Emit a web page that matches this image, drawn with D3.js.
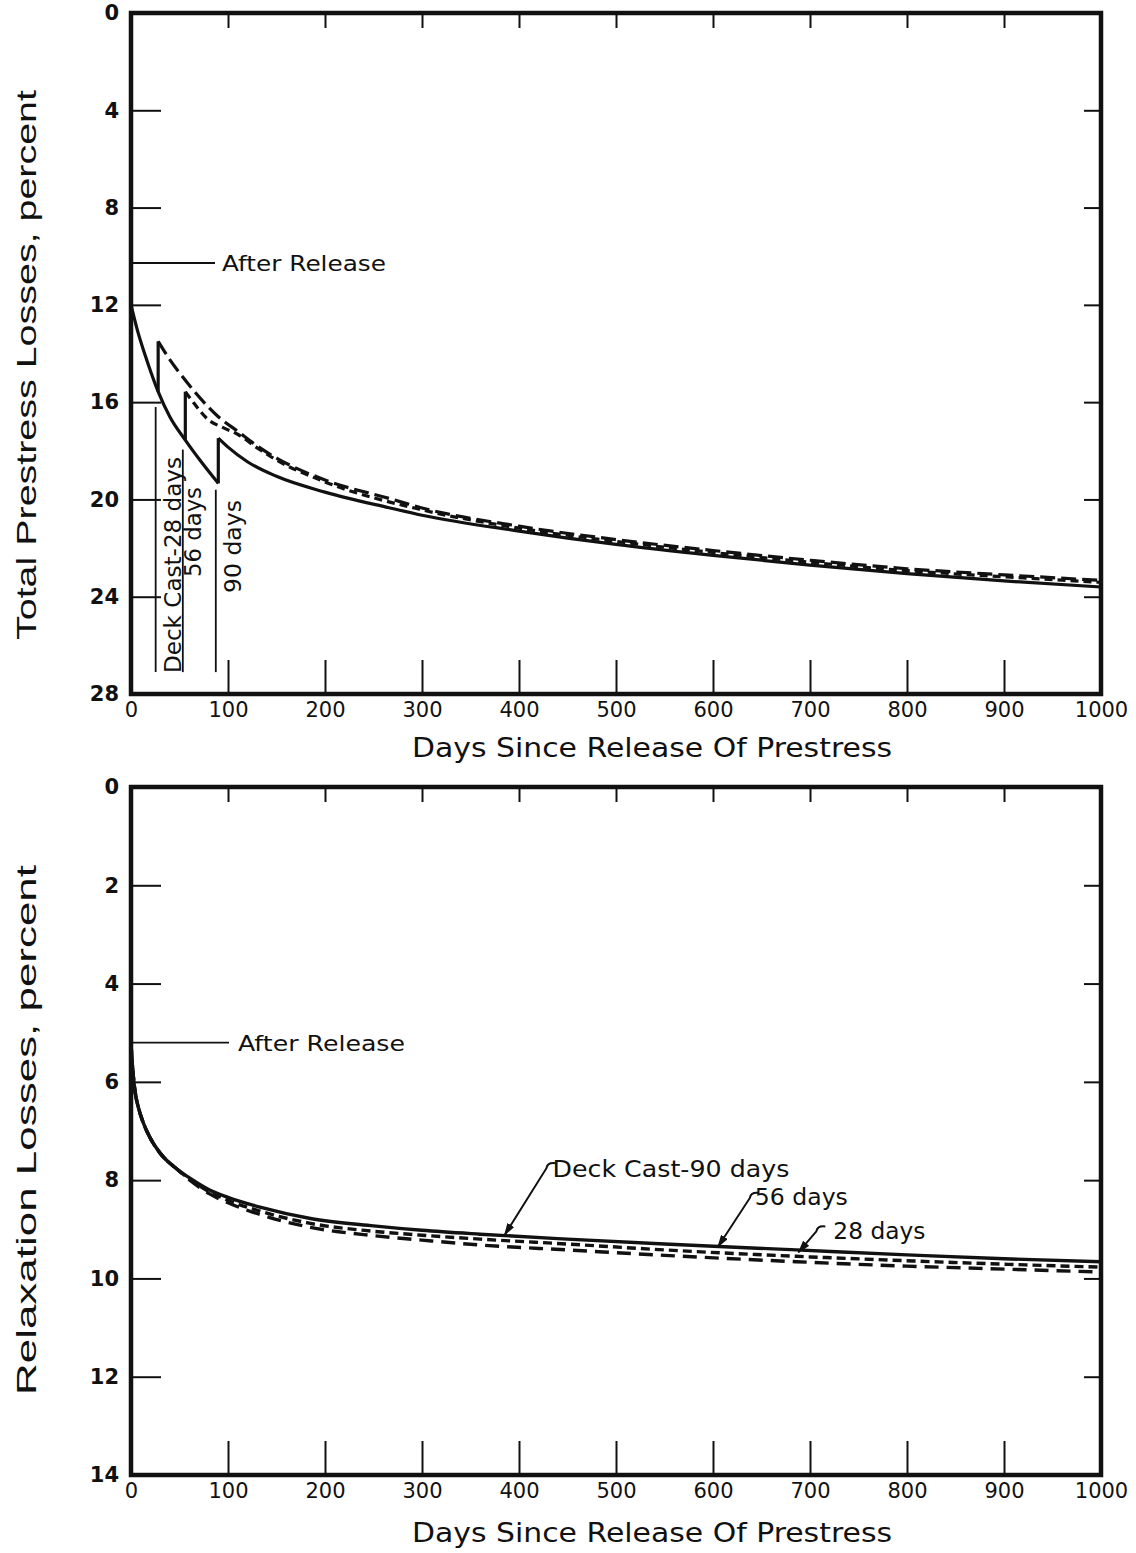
<!DOCTYPE html>
<html>
<head>
<meta charset="utf-8">
<script src="https://cdn.jsdelivr.net/npm/d3@7/dist/d3.min.js"></script>
<style>
  html, body { margin: 0; padding: 0; background: #fff; }
  svg { display: block; }
  .tick text { font-family: "DejaVu Sans", sans-serif; font-size: 21px; fill: #111; }
</style>
</head>
<body>
<svg id="fig" width="1136" height="1553"></svg>
<script>
// ---------- Total prestress losses (upper panel) ----------
// Common curve before the deck is cast
const baseDays   = [0, 7, 14, 21, 28, 40, 56, 71, 90];
const baseLoss   = [12.0, 13.1, 14.0, 14.82, 15.57, 16.6, 17.56, 18.38, 19.34];

// Deck cast at 28 days
const cast28Days = [28, 40, 56, 75, 90, 110, 130, 150, 200, 267, 300, 400, 500, 600, 700, 800, 900, 1000];
const cast28Loss = [13.5, 14.25, 15.1, 16.0, 16.6, 17.2, 17.8, 18.3, 19.2, 19.97, 20.35, 21.1, 21.65, 22.1, 22.5, 22.85, 23.1, 23.33];

// Deck cast at 56 days
const cast56Days = [56, 65, 79, 95, 110, 130, 150, 200, 300, 400, 500, 600, 700, 800, 900, 1000];
const cast56Loss = [15.57, 16.05, 16.7, 17.05, 17.32, 17.88, 18.38, 19.28, 20.43, 21.18, 21.73, 22.18, 22.58, 22.93, 23.18, 23.41];

// Deck cast at 90 days
const cast90Days = [90, 100, 120, 150, 200, 267, 300, 400, 500, 600, 700, 800, 900, 1000];
const cast90Loss = [17.48, 17.85, 18.45, 19.05, 19.7, 20.35, 20.65, 21.3, 21.85, 22.3, 22.7, 23.05, 23.35, 23.6];

// Step at each casting day: loss just before and just after
const castDays      = [28, 56, 90];
const castLossPre   = [15.57, 17.56, 19.34];
const castLossPost  = [13.5, 15.57, 17.48];
const castLabels    = ["Deck Cast-28 days", "56 days", "90 days"];
const castLineTop   = [16.2, 17.95, 19.6];

const totalAfterRelease = 10.28;
const totalYTicks = [0, 4, 8, 12, 16, 20, 24, 28];

// ---------- Relaxation losses (lower panel) ----------
const relaxDays = [0, 1, 2, 4, 8, 13, 20, 30, 47, 60, 81, 100, 133, 185, 250, 300, 360, 450, 550, 686, 800, 900, 1000];
const relax90   = [5.22, 5.55, 5.8, 6.17, 6.55, 6.85, 7.15, 7.45, 7.77, 7.95, 8.2, 8.35, 8.55, 8.78, 8.93, 9.02, 9.1, 9.2, 9.3, 9.42, 9.52, 9.6, 9.66];
const relax56   = [5.22, 5.55, 5.8, 6.17, 6.55, 6.85, 7.15, 7.45, 7.77, 7.97, 8.24, 8.41, 8.63, 8.88, 9.04, 9.12, 9.2, 9.3, 9.42, 9.55, 9.64, 9.71, 9.77];
const relax28   = [5.22, 5.55, 5.8, 6.17, 6.55, 6.85, 7.15, 7.45, 7.77, 7.99, 8.28, 8.46, 8.7, 8.96, 9.13, 9.22, 9.32, 9.42, 9.53, 9.66, 9.75, 9.81, 9.87];

const relaxAfterRelease = 5.2;
const relaxYTicks = [0, 2, 4, 6, 8, 10, 12, 14];

// Leader labels in the lower panel: text, day/value the arrow points at
const relaxLabels    = ["Deck Cast-90 days", "56 days", "28 days"];
const relaxLabelDay  = [385, 605, 688];
const relaxLabelLoss = [9.12, 9.36, 9.47];

const xTicks = [0, 100, 200, 300, 400, 500, 600, 700, 800, 900, 1000];
const xTitle = "Days Since Release Of Prestress";

// ---------- drawing ----------
const svg = d3.select("#fig");
svg.append("rect").attr("width", 1136).attr("height", 1553).attr("fill", "#fff");

const defs = svg.append("defs");
defs.append("marker")
  .attr("id", "arrow").attr("viewBox", "0 0 13 8").attr("refX", 12).attr("refY", 4)
  .attr("markerWidth", 13).attr("markerHeight", 8).attr("markerUnits", "userSpaceOnUse")
  .attr("orient", "auto")
  .append("path").attr("d", "M0,0 L13,4 L0,8 Z").attr("fill", "#111");

const ink = "#111";
const x = d3.scaleLinear().domain([0, 1000]).range([131, 1101]);

function zip(ds, vs) { return ds.map((d, i) => [d, vs[i]]); }

function panel(y, yTicks, yTitle, titleY, titleLen, axisTitleY) {
  const g = svg.append("g");
  const [y0, y1] = y.range();
  const x0 = x(0), x1 = x(1000);

  // inward ticks on all four sides
  g.append("g").attr("transform", `translate(${x0},0)`)
    .call(d3.axisLeft(y).tickValues(yTicks).tickSize(-30).tickPadding(12).tickFormat(d3.format("d")))
    .call(a => a.select(".domain").remove())
    .call(a => a.selectAll(".tick line").attr("stroke", ink).attr("stroke-width", 2))
    .call(a => a.selectAll(".tick text").attr("font-weight", "bold"));
  g.append("g").attr("transform", `translate(${x1},0)`)
    .call(d3.axisRight(y).tickValues(yTicks.slice(1, -1)).tickSize(-17).tickFormat(""))
    .call(a => a.select(".domain").remove())
    .call(a => a.selectAll(".tick line").attr("stroke", ink).attr("stroke-width", 2));
  g.append("g").attr("transform", `translate(0,${y0})`)
    .call(d3.axisTop(x).tickValues(xTicks.slice(1, -1)).tickSize(-15).tickFormat(""))
    .call(a => a.select(".domain").remove())
    .call(a => a.selectAll(".tick line").attr("stroke", ink).attr("stroke-width", 2));
  g.append("g").attr("transform", `translate(0,${y1})`)
    .call(d3.axisBottom(x).tickValues(xTicks).tickSize(-34).tickPadding(8).tickFormat(d3.format("d")))
    .call(a => a.select(".domain").remove())
    .call(a => a.selectAll(".tick line").attr("stroke", ink).attr("stroke-width", 2)
      .filter(d => d === 0 || d === 1000).remove());

  // heavy frame
  g.append("rect").attr("x", x0).attr("y", y0).attr("width", x1 - x0).attr("height", y1 - y0)
    .attr("fill", "none").attr("stroke", ink).attr("stroke-width", 4.5);

  // axis titles
  svg.append("text").attr("transform", `translate(36,${titleY}) rotate(-90)`)
    .attr("text-anchor", "middle").attr("font-family", "Liberation Sans, Arial, sans-serif")
    .attr("font-size", 28).attr("fill", ink)
    .attr("textLength", titleLen).attr("lengthAdjust", "spacingAndGlyphs").text(yTitle);
  svg.append("text").attr("x", 652).attr("y", axisTitleY)
    .attr("text-anchor", "middle").attr("font-family", "DejaVu Sans, sans-serif")
    .attr("font-size", 26).attr("fill", ink)
    .attr("textLength", 480).attr("lengthAdjust", "spacingAndGlyphs").text(xTitle);
  return g;
}

const annoFont = "DejaVu Sans, sans-serif";

// ===== upper panel =====
const yT = d3.scaleLinear().domain([0, 28]).range([13, 694]);
const gT = panel(yT, totalYTicks, "Total Prestress Losses, percent", 365, 550, 757);
const lineT = d3.line().x(d => x(d[0])).y(d => yT(d[1])).curve(d3.curveMonotoneX);

const curves = gT.append("g").attr("fill", "none").attr("stroke", ink).attr("stroke-width", 3.2)
  .attr("stroke-linejoin", "round");
curves.append("path").attr("d", lineT(zip(baseDays, baseLoss)));
curves.append("path").attr("d", lineT(zip(cast90Days, cast90Loss)));
curves.append("path").attr("d", lineT(zip(cast28Days, cast28Loss))).attr("stroke-dasharray", "15,6");
curves.append("path").attr("d", lineT(zip(cast56Days, cast56Loss))).attr("stroke-dasharray", "8,5");
// steps where the deck is cast
castDays.forEach((d, i) => {
  curves.append("line").attr("x1", x(d)).attr("x2", x(d))
    .attr("y1", yT(castLossPre[i])).attr("y2", yT(castLossPost[i]));
});

// casting markers with vertical labels
const markerG = gT.append("g");
const markerX = castDays.map(d => x(d) - 2.5);
castDays.forEach((d, i) => {
  markerG.append("line").attr("x1", markerX[i]).attr("x2", markerX[i])
    .attr("y1", yT(castLineTop[i])).attr("y2", yT(27.1))
    .attr("stroke", ink).attr("stroke-width", 1.8);
});
const labelLen = [216, 90, 93];
const labelBase = [181, 201, 241];
const labelBottom = [673, 577, 593];
castLabels.forEach((t, i) => {
  markerG.append("text")
    .attr("transform", `translate(${labelBase[i]},${labelBottom[i]}) rotate(-90)`)
    .attr("font-family", annoFont).attr("font-size", 23).attr("fill", ink)
    .attr("textLength", labelLen[i]).attr("lengthAdjust", "spacingAndGlyphs").text(t);
});

// after-release marker
gT.append("line").attr("x1", x(0)).attr("x2", 215)
  .attr("y1", yT(totalAfterRelease)).attr("y2", yT(totalAfterRelease))
  .attr("stroke", ink).attr("stroke-width", 1.8);
gT.append("text").attr("x", 222).attr("y", yT(totalAfterRelease) + 8)
  .attr("font-family", annoFont).attr("font-size", 22).attr("fill", ink)
  .attr("textLength", 164).attr("lengthAdjust", "spacingAndGlyphs").text("After Release");

// ===== lower panel =====
const yB = d3.scaleLinear().domain([0, 14]).range([787, 1475]);
const gB = panel(yB, relaxYTicks, "Relaxation Losses, percent", 1130, 530, 1542);
const lineB = d3.line().x(d => x(d[0])).y(d => yB(d[1])).curve(d3.curveMonotoneX);

const curvesB = gB.append("g").attr("fill", "none").attr("stroke", ink).attr("stroke-width", 3.4)
  .attr("stroke-linejoin", "round");
curvesB.append("path").attr("d", lineB(zip(relaxDays, relax28))).attr("stroke-dasharray", "14,8");
curvesB.append("path").attr("d", lineB(zip(relaxDays, relax56))).attr("stroke-dasharray", "9,5");
curvesB.append("path").attr("d", lineB(zip(relaxDays, relax90)));

gB.append("line").attr("x1", x(0)).attr("x2", 229)
  .attr("y1", yB(relaxAfterRelease)).attr("y2", yB(relaxAfterRelease))
  .attr("stroke", ink).attr("stroke-width", 1.8);
gB.append("text").attr("x", 238).attr("y", yB(relaxAfterRelease) + 8)
  .attr("font-family", annoFont).attr("font-size", 22).attr("fill", ink)
  .attr("textLength", 167).attr("lengthAdjust", "spacingAndGlyphs").text("After Release");

// leaders: [dx, dy] from arrow tip to the hook, text offset and length
const leaderRise = [[42, -70], [32, -52], [18, -24]];
const leaderText = [[48, -58, 237], [37, -42, 93], [35, -13, 92]];
relaxLabels.forEach((t, i) => {
  const tx = x(relaxLabelDay[i]), ty = yB(relaxLabelLoss[i]);
  const [dx, dy] = leaderRise[i];
  const hx = tx + dx, hy = ty + dy;
  const p = d3.path();
  p.moveTo(hx + 9, hy - 2);
  p.quadraticCurveTo(hx + 1, hy - 3, hx, hy + 3);
  p.lineTo(tx, ty);
  gB.append("path").attr("d", p.toString()).attr("fill", "none")
    .attr("stroke", ink).attr("stroke-width", 2).attr("marker-end", "url(#arrow)");
  const [ox, oy, len] = leaderText[i];
  gB.append("text").attr("x", tx + ox).attr("y", ty + oy)
    .attr("font-family", annoFont).attr("font-size", 23).attr("fill", ink)
    .attr("textLength", len).attr("lengthAdjust", "spacingAndGlyphs").text(t);
});
</script>
</body>
</html>
